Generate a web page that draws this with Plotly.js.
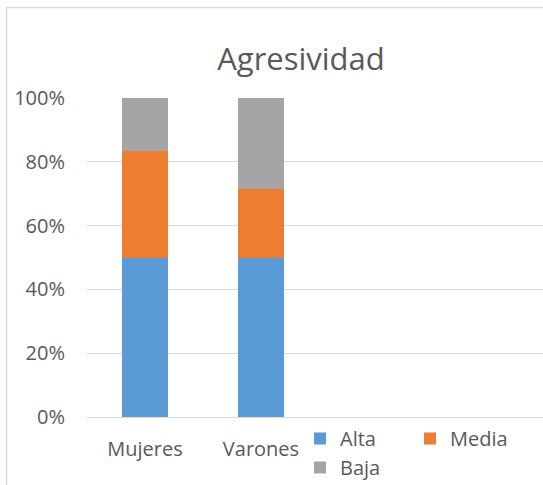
<!DOCTYPE html>
<html>
<head>
<meta charset="utf-8">
<script src="https://cdn.plot.ly/plotly-3.0.1.min.js"></script>
<style>
  html, body { margin: 0; padding: 0; background: #ffffff; }
  #chart { width: 543px; height: 485px; }
</style>
</head>
<body>
<div id="chart"></div>
<script>
// Data
var categories = ['Mujeres', 'Varones'];
var seriesNames = ['Alta', 'Media', 'Baja'];
var alta  = [50.0, 50.0];
var media = [33.3, 21.4];
var baja  = [16.7, 28.6];
var yTickValues = [0, 20, 40, 60, 80, 100];
var yTickLabels = ['0%', '20%', '40%', '60%', '80%', '100%'];

var colors = ['#5B9BD5', '#ED7D31', '#A5A5A5'];
var groups = ['col1', 'col2', 'col1'];
var values = [alta, media, baja];
var textColor = '#595959';
var font = '"Open Sans", "DejaVu Sans", sans-serif';

var traces = seriesNames.map(function (name, i) {
  return {
    type: 'bar',
    name: name,
    x: categories,
    y: values[i],
    width: 0.4,
    legendgroup: groups[i],
    marker: { color: colors[i], line: { width: 0 } },
    hoverinfo: 'x+y+name'
  };
});

var layout = {
  width: 543,
  height: 485,
  margin: { l: 87, r: 0, t: 98, b: 68, pad: 0, autoexpand: false },
  paper_bgcolor: '#ffffff',
  plot_bgcolor: '#ffffff',
  barmode: 'stack',
  font: { family: font, size: 20, color: textColor },
  title: {
    text: 'Agresividad',
    font: { family: font, size: 31, color: textColor },
    xref: 'container', x: 301 / 543, xanchor: 'center',
    yref: 'container', y: 1 - 59 / 485, yanchor: 'middle'
  },
  xaxis: {
    type: 'category',
    range: [-0.5, 3.431],
    showgrid: false,
    zeroline: false,
    showline: true,
    linecolor: '#D9D9D9',
    linewidth: 1,
    ticks: '',
    ticklabelstandoff: 14,
    tickfont: { family: font, size: 20, color: textColor },
    fixedrange: true
  },
  yaxis: {
    range: [0, 100],
    tickvals: yTickValues,
    ticktext: yTickLabels,
    showgrid: true,
    gridcolor: '#D9D9D9',
    gridwidth: 1,
    zeroline: false,
    showline: false,
    ticks: '',
    ticklabelstandoff: 21,
    tickfont: { family: font, size: 20, color: textColor },
    fixedrange: true
  },
  showlegend: true,
  legend: {
    orientation: 'h',
    traceorder: 'grouped',
    xref: 'paper', x: (300 - 87) / 456, xanchor: 'left',
    yref: 'paper', y: (417 - 419) / 319, yanchor: 'top',
    entrywidth: 65,
    tracegroupgap: 0,
    bgcolor: 'rgba(0,0,0,0)',
    font: { family: font, size: 20, color: textColor }
  },
  shapes: [{
    type: 'rect',
    xref: 'paper', yref: 'paper',
    x0: (6.5 - 87) / 456, x1: 1.2,
    y0: (417 - 7.5) / 319, y1: -0.5,
    line: { color: '#D9D9D9', width: 1.5 },
    fillcolor: 'rgba(0,0,0,0)',
    layer: 'below'
  }]
};

Plotly.newPlot('chart', traces, layout, { displayModeBar: false, staticPlot: true });
</script>
</body>
</html>
